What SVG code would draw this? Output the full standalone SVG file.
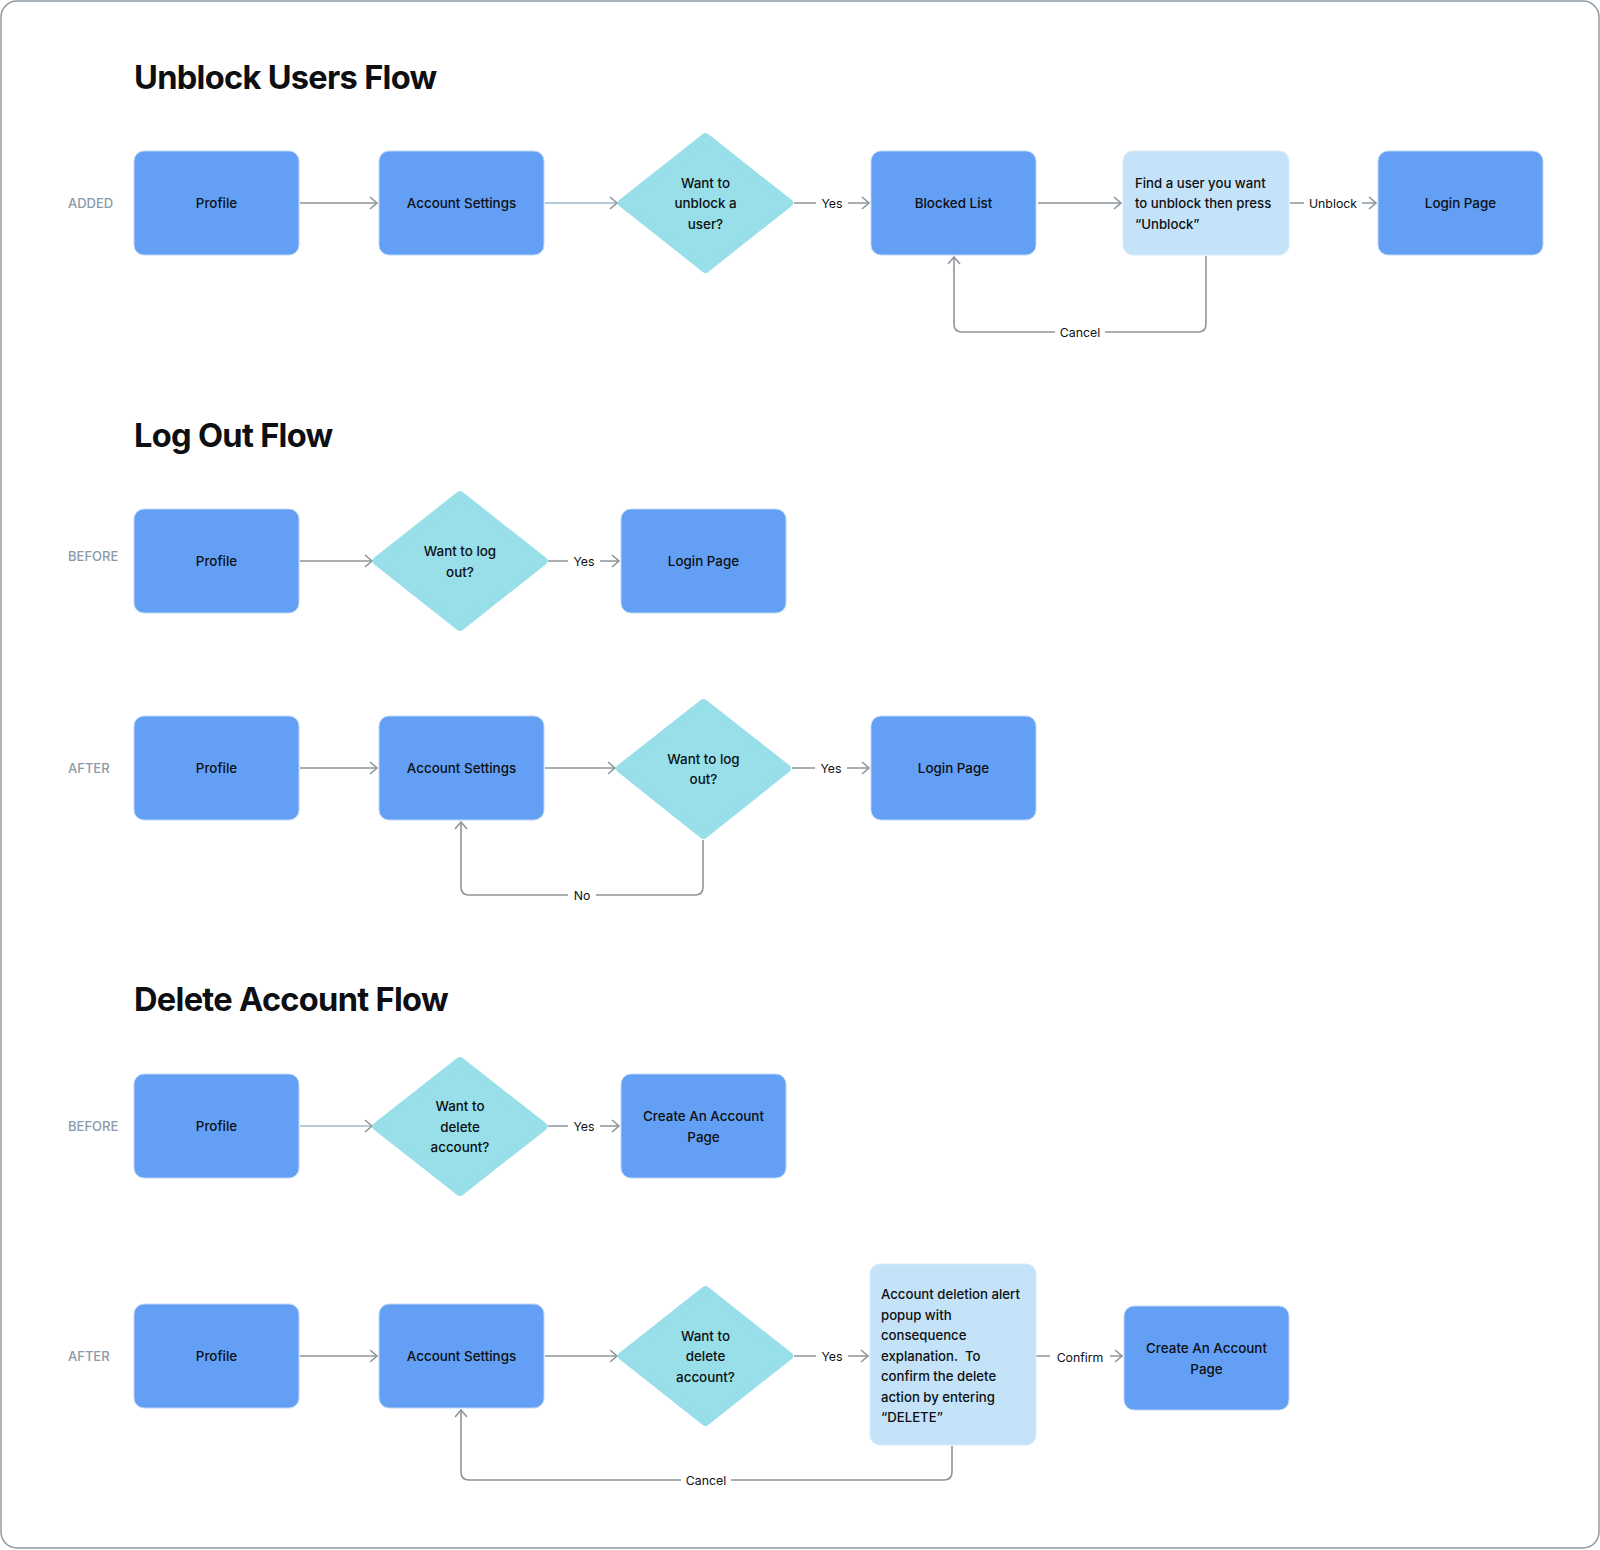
<svg xmlns="http://www.w3.org/2000/svg" width="1600" height="1550" viewBox="0 0 1600 1550">
<defs>
<marker id="arr" markerUnits="userSpaceOnUse" markerWidth="14" markerHeight="16" refX="9" refY="7" orient="auto">
<path d="M2,1 L9,7 L2,13" fill="none" stroke="#8e959b" stroke-width="1.6"/>
</marker>
</defs>
<style>
.frame{fill:#ffffff;stroke:#8f9aa3;stroke-width:1.5}
.title{font-family:Inter,"Liberation Sans",sans-serif;font-weight:700;font-size:32.6px;fill:#0d0f12;letter-spacing:-0.7px}
.tag{font-family:Inter,"Liberation Sans",sans-serif;font-weight:500;font-size:13px;fill:#8a9aa8}
.box{fill:#63a0f5;stroke:#bcd8f6;stroke-width:1}
.note{fill:#c5e3f8;stroke:#d6ebfa;stroke-width:1}
.dia{fill:#98dfe9;stroke:#98dfe9;stroke-width:8;stroke-linejoin:round}
.lbl{font-family:Inter,"Liberation Sans",sans-serif;font-weight:500;font-size:13.4px;fill:#0d0f12;text-anchor:middle;dominant-baseline:central}
.ltxt{font-family:Inter,"Liberation Sans",sans-serif;font-weight:500;font-size:13.2px;fill:#0d0f12;dominant-baseline:central}
.con{fill:none;stroke:#8e959b;stroke-width:1.6;marker-end:url(#arr)}
.conb{fill:none;stroke:#9fb8cc;stroke-width:1.6;marker-end:url(#arr)}
.clbl{font-family:Inter,"Liberation Sans",sans-serif;font-size:12.3px;fill:#0d0f12;text-anchor:middle;dominant-baseline:central}
.gap{fill:#ffffff}
</style>
<rect class="frame" x="1" y="1" width="1598" height="1547" rx="16"/>

<text class="title" x="134" y="89">Unblock Users Flow</text>
<text class="title" x="134" y="447">Log Out Flow</text>
<text class="title" x="134" y="1011">Delete Account Flow</text>

<text class="tag" x="68" y="208">ADDED</text>
<text class="tag" x="68" y="561">BEFORE</text>
<text class="tag" x="68" y="773">AFTER</text>
<text class="tag" x="68" y="1131">BEFORE</text>
<text class="tag" x="68" y="1361">AFTER</text>

<g id="connectors">
<path class="con" d="M300,203 H377"/>
<path class="conb" d="M545,203 H617"/>
<path class="con" d="M794,203 H869"/>
<path class="con" d="M1038,203 H1121"/>
<path class="con" d="M1290,203 H1376"/>
<path class="con" d="M1206,256 V324 Q1206,332 1198,332 H962 Q954,332 954,324 V257"/>
<path class="con" d="M300,561 H372"/>
<path class="con" d="M548,561 H619"/>
<path class="con" d="M300,768 H377"/>
<path class="con" d="M545,768 H615"/>
<path class="con" d="M792,768 H869"/>
<path class="con" d="M703,840 V887 Q703,895 695,895 H469 Q461,895 461,887 V822"/>
<path class="conb" d="M300,1126 H372"/>
<path class="con" d="M548,1126 H619"/>
<path class="con" d="M300,1356 H377"/>
<path class="con" d="M545,1356 H617"/>
<path class="con" d="M794,1356 H868"/>
<path class="con" d="M1036,1356 H1122"/>
<path class="con" d="M952,1446 V1472 Q952,1480 944,1480 H469 Q461,1480 461,1472 V1410"/>

<rect class="gap" x="816" y="195" width="32" height="16"/><text class="clbl" x="832" y="203">Yes</text>
<rect class="gap" x="1304" y="195" width="58" height="16"/><text class="clbl" x="1333" y="203">Unblock</text>
<rect class="gap" x="1055" y="324" width="50" height="16"/><text class="clbl" x="1080" y="332">Cancel</text>
<rect class="gap" x="568" y="553" width="32" height="16"/><text class="clbl" x="584" y="561">Yes</text>
<rect class="gap" x="815" y="760" width="32" height="16"/><text class="clbl" x="831" y="768">Yes</text>
<rect class="gap" x="568" y="887" width="28" height="16"/><text class="clbl" x="582" y="895">No</text>
<rect class="gap" x="568" y="1118" width="32" height="16"/><text class="clbl" x="584" y="1126">Yes</text>
<rect class="gap" x="816" y="1348" width="32" height="16"/><text class="clbl" x="832" y="1356">Yes</text>
<rect class="gap" x="1050" y="1348" width="60" height="16"/><text class="clbl" x="1080" y="1357">Confirm</text>
<rect class="gap" x="681" y="1472" width="50" height="16"/><text class="clbl" x="706" y="1480">Cancel</text>
</g>

<g id="u-profile"><rect class="box" x="134" y="151" width="165" height="104" rx="10"/><text class="lbl" x="216.5" y="203">Profile</text></g>
<g id="u-settings"><rect class="box" x="379" y="151" width="165" height="104" rx="10"/><text class="lbl" x="461.5" y="203">Account Settings</text></g>
<g id="u-decision"><polygon class="dia" points="705.5,137 789,203 705.5,269 622,203"/><text class="lbl" x="705.5" y="183">Want to</text><text class="lbl" x="705.5" y="203">unblock a</text><text class="lbl" x="705.5" y="223.5">user?</text></g>
<g id="u-blocked"><rect class="box" x="871" y="151" width="165" height="104" rx="10"/><text class="lbl" x="953.5" y="203">Blocked List</text></g>
<g id="u-find"><rect class="note" x="1123" y="151" width="166" height="104" rx="10"/><text class="ltxt" x="1135" y="183">Find a user you want</text><text class="ltxt" x="1135" y="203">to unblock then press</text><text class="ltxt" x="1135" y="223.5">“Unblock”</text></g>
<g id="u-login"><rect class="box" x="1378" y="151" width="165" height="104" rx="10"/><text class="lbl" x="1460.5" y="203">Login Page</text></g>

<g id="lb-profile"><rect class="box" x="134" y="509" width="165" height="104" rx="10"/><text class="lbl" x="216.5" y="561">Profile</text></g>
<g id="lb-decision"><polygon class="dia" points="460,495 543.5,561 460,627 376.5,561"/><text class="lbl" x="460" y="551">Want to log</text><text class="lbl" x="460" y="571.5">out?</text></g>
<g id="lb-login"><rect class="box" x="621" y="509" width="165" height="104" rx="10"/><text class="lbl" x="703.5" y="561">Login Page</text></g>

<g id="la-profile"><rect class="box" x="134" y="716" width="165" height="104" rx="10"/><text class="lbl" x="216.5" y="768">Profile</text></g>
<g id="la-settings"><rect class="box" x="379" y="716" width="165" height="104" rx="10"/><text class="lbl" x="461.5" y="768">Account Settings</text></g>
<g id="la-decision"><polygon class="dia" points="703.5,703 787,768.5 703.5,835 620,768.5"/><text class="lbl" x="703.5" y="758.5">Want to log</text><text class="lbl" x="703.5" y="779">out?</text></g>
<g id="la-login"><rect class="box" x="871" y="716" width="165" height="104" rx="10"/><text class="lbl" x="953.5" y="768">Login Page</text></g>

<g id="db-profile"><rect class="box" x="134" y="1074" width="165" height="104" rx="10"/><text class="lbl" x="216.5" y="1126">Profile</text></g>
<g id="db-decision"><polygon class="dia" points="460,1061 543.5,1126.5 460,1192 376.5,1126.5"/><text class="lbl" x="460" y="1106">Want to</text><text class="lbl" x="460" y="1126.5">delete</text><text class="lbl" x="460" y="1147">account?</text></g>
<g id="db-create"><rect class="box" x="621" y="1074" width="165" height="104" rx="10"/><text class="lbl" x="703.5" y="1116">Create An Account</text><text class="lbl" x="703.5" y="1136.5">Page</text></g>

<g id="da-profile"><rect class="box" x="134" y="1304" width="165" height="104" rx="10"/><text class="lbl" x="216.5" y="1356">Profile</text></g>
<g id="da-settings"><rect class="box" x="379" y="1304" width="165" height="104" rx="10"/><text class="lbl" x="461.5" y="1356">Account Settings</text></g>
<g id="da-decision"><polygon class="dia" points="705.5,1290 789,1356 705.5,1422 622,1356"/><text class="lbl" x="705.5" y="1335.5">Want to</text><text class="lbl" x="705.5" y="1356">delete</text><text class="lbl" x="705.5" y="1376.5">account?</text></g>
<g id="da-alert"><rect class="note" x="870" y="1264" width="166" height="181" rx="10"/><text class="ltxt" x="881" y="1294">Account deletion alert</text><text class="ltxt" x="881" y="1314.5">popup with</text><text class="ltxt" x="881" y="1335">consequence</text><text class="ltxt" x="881" y="1355.5">explanation.&#160; To</text><text class="ltxt" x="881" y="1376">confirm the delete</text><text class="ltxt" x="881" y="1396.5">action by entering</text><text class="ltxt" x="881" y="1417">“DELETE”</text></g>
<g id="da-create"><rect class="box" x="1124" y="1306" width="165" height="104" rx="10"/><text class="lbl" x="1206.5" y="1348">Create An Account</text><text class="lbl" x="1206.5" y="1368.5">Page</text></g>
</svg>
